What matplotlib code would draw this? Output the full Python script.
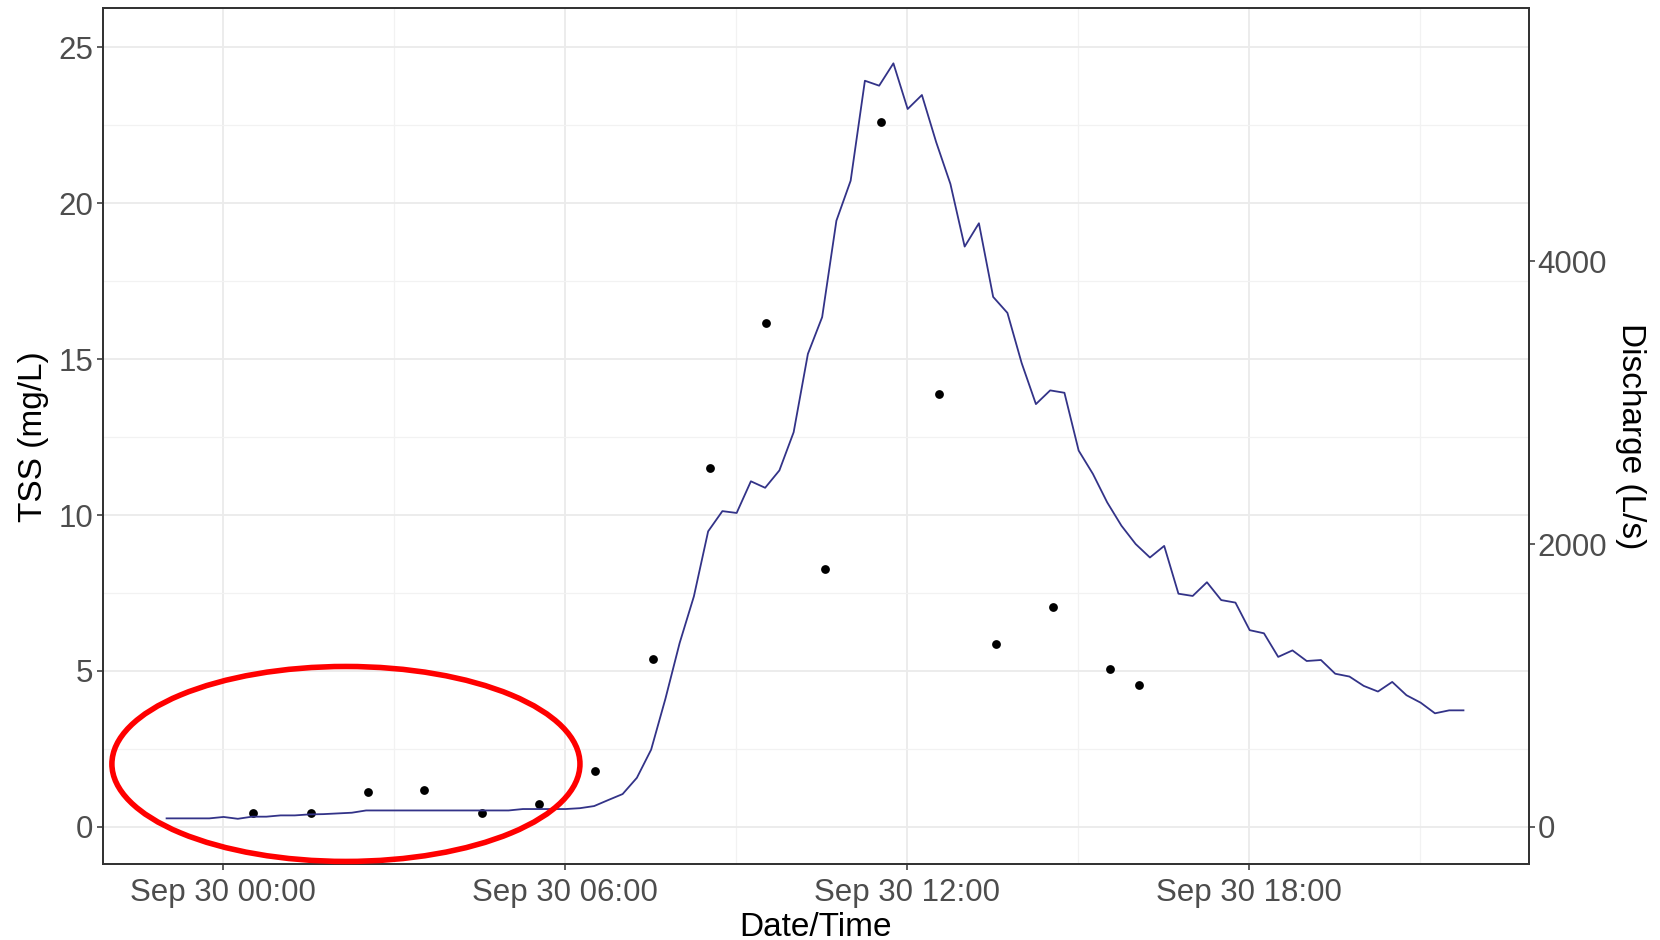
import matplotlib
matplotlib.use("Agg")
import matplotlib.pyplot as plt
import matplotlib.dates as mdates
from matplotlib.patches import Ellipse
from matplotlib.ticker import MultipleLocator, FixedLocator
import numpy as np
import pandas as pd

# ---------------- data ----------------
sample_times = ["2019-09-30 00:32", "2019-09-30 01:33", "2019-09-30 02:33", "2019-09-30 03:32",
                "2019-09-30 04:33", "2019-09-30 05:33", "2019-09-30 06:32", "2019-09-30 07:33",
                "2019-09-30 08:33", "2019-09-30 09:32", "2019-09-30 10:34", "2019-09-30 11:33",
                "2019-09-30 12:34", "2019-09-30 13:34", "2019-09-30 14:34", "2019-09-30 15:34",
                "2019-09-30 16:04"]
tss_values = [0.46, 0.46, 1.13, 1.18, 0.45, 0.73, 1.79, 5.37, 11.51, 16.16, 8.28, 22.60,
              13.87, 5.88, 7.05, 5.06, 4.56]

discharge_start = "2019-09-29 23:01"
discharge_step = "15min"
discharge_values = [
    60, 60, 60, 60, 70, 57, 72, 72, 81, 81, 88, 90, 95, 100,
    116, 116, 116, 116, 116, 116, 116, 116, 116, 116, 116,
    126, 126, 126, 126, 132, 147, 190, 232, 347, 546, 905, 1300, 1630,
    2090, 2233, 2220, 2444, 2398, 2521, 2791, 3345, 3605, 4287, 4570,
    5277, 5242, 5400, 5077, 5176, 4843, 4547, 4104, 4269, 3748, 3635,
    3280, 2990, 3087, 3070, 2661, 2496, 2295, 2130, 2000, 1905, 1987,
    1649, 1633, 1730, 1604, 1586, 1391, 1369, 1202, 1248, 1173, 1180,
    1083, 1063, 997, 957, 1025, 931, 878, 803, 824, 824]

x_limits = ["2019-09-29 21:54", "2019-09-30 22:55"]
tss_limits = [-1.19, 26.25]
discharge_per_tss = 220.5
tss_ticks = [0, 5, 10, 15, 20, 25]
discharge_ticks = [0, 2000, 4000]

# ---------------- plot ----------------
plt.rcParams['font.family'] = ['Liberation Sans', 'DejaVu Sans']

fig = plt.figure(figsize=(16.6, 9.4), dpi=100)
ax = fig.add_axes([0.0620, 0.0809, 0.9211 - 0.0620, 0.9910 - 0.0809])

st = pd.to_datetime(sample_times)
dt = pd.date_range(discharge_start, periods=len(discharge_values), freq=discharge_step)

ax.scatter(st, tss_values, s=40, color="black", zorder=3, linewidths=0)

ax.set_xlim(pd.to_datetime(x_limits[0]), pd.to_datetime(x_limits[1]))
ax.set_ylim(*tss_limits)
ax.yaxis.set_major_locator(FixedLocator(tss_ticks))
ax.yaxis.set_minor_locator(MultipleLocator(2.5))
ax.xaxis.set_major_locator(mdates.HourLocator(byhour=[0, 6, 12, 18]))
ax.xaxis.set_minor_locator(mdates.HourLocator(byhour=[3, 9, 15, 21]))
ax.xaxis.set_major_formatter(mdates.DateFormatter("%b %d %H:%M"))

ax.grid(which="major", color="#EBEBEB", linewidth=1.3, zorder=0)
ax.grid(which="minor", color="#F2F2F2", linewidth=0.9, zorder=0)
ax.set_axisbelow(True)

for s in ax.spines.values():
    s.set_color("#333333")
    s.set_linewidth(1.3)

ax.tick_params(which="major", length=4, width=1.1, color="#333333",
               labelsize=22.5, labelcolor="#4D4D4D", pad=3)
ax.tick_params(axis="x", which="major", pad=6)
ax.tick_params(which="minor", length=0)

ax.set_xlabel("Date/Time", fontsize=24, color="black", labelpad=3)
ax.set_ylabel("TSS (mg/L)", fontsize=24, color="black", labelpad=7)

ax2 = ax.twinx()
ax2.plot(dt, discharge_values, color="#333388", linewidth=1.3, zorder=2)
ax2.set_ylim(tss_limits[0] * discharge_per_tss, tss_limits[1] * discharge_per_tss)
ax2.yaxis.set_major_locator(FixedLocator(discharge_ticks))
ax2.tick_params(which="major", length=4, width=1.1, color="#333333",
                labelsize=22.5, labelcolor="#4D4D4D", pad=2)
ax2.tick_params(which="minor", length=0)
for s in ax2.spines.values():
    s.set_color("#333333")
    s.set_linewidth(1.3)
ax2.set_ylabel("Discharge (L/s)", fontsize=24, color="black", rotation=270, labelpad=28)

ell = Ellipse((0.1704, 0.1169), 0.3282, 0.2279, transform=ax.transAxes,
              fill=False, edgecolor="#FF0000", linewidth=4, clip_on=False, zorder=5)
ax2.add_patch(ell)

fig.savefig("out.png", dpi=100)
